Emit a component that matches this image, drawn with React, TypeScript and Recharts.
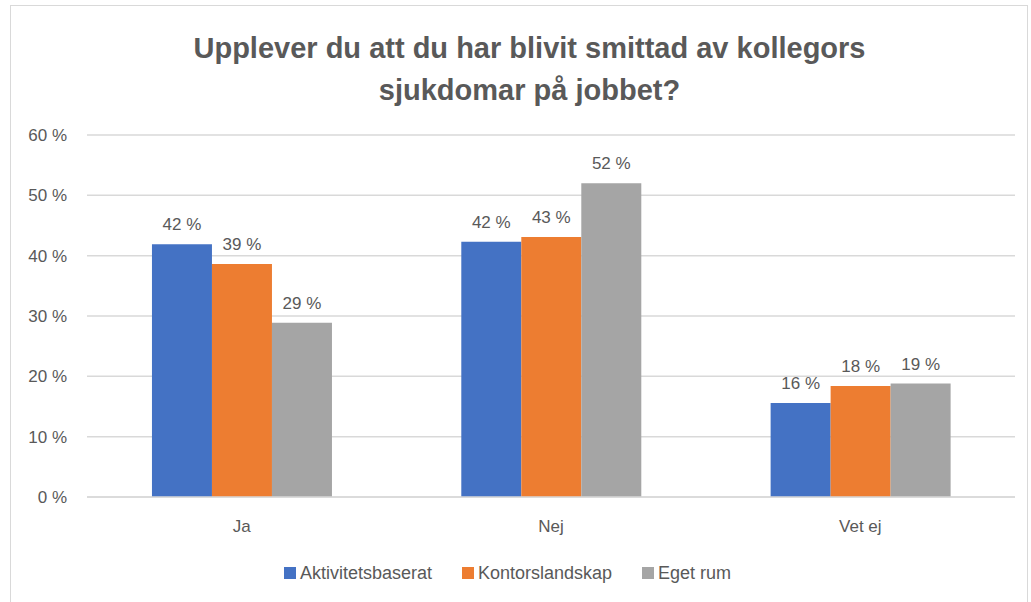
import { BarChart, Bar, XAxis, YAxis, CartesianGrid, Legend, LabelList } from "recharts";

const categories = ["Ja", "Nej", "Vet ej"];
const aktivitetsbaserat = [41.9, 42.3, 15.6];
const kontorslandskap = [38.6, 43.1, 18.4];
const egetRum = [28.9, 52.0, 18.8];
const yTicks = [0, 10, 20, 30, 40, 50, 60];

const data = categories.map((c, i) => ({
  name: c,
  Aktivitetsbaserat: aktivitetsbaserat[i],
  Kontorslandskap: kontorslandskap[i],
  "Eget rum": egetRum[i],
}));

const font = "'Liberation Sans', Arial, sans-serif";
const textColor = "#595959";
const pct = (v: any) => `${Math.round(Number(v))} %`;

const series = [
  { key: "Aktivitetsbaserat", color: "#4472C4" },
  { key: "Kontorslandskap", color: "#ED7D31" },
  { key: "Eget rum", color: "#A5A5A5" },
];

function LegendContent() {
  return (
    <div style={{ display: "flex", justifyContent: "center", gap: 30, height: 22, alignItems: "center" }}>
      {series.map((s) => (
        <div key={s.key} style={{ display: "flex", alignItems: "center", gap: 4 }}>
          <span style={{ width: 12, height: 12, background: s.color, display: "inline-block" }} />
          <span style={{ color: textColor, fontSize: 18, fontFamily: font }}>{s.key}</span>
        </div>
      ))}
    </div>
  );
}

export default function App() {
  return (
    <div style={{ position: "fixed", left: 0, top: 0, width: 1031, height: 602, background: "#fff", fontFamily: font }}>
      <div style={{ position: "absolute", left: 10, top: 5, width: 1016, height: 610, border: "1px solid #D9D9D9" }} />
      <div
        style={{
          position: "absolute",
          left: 14,
          top: 27,
          width: 1031,
          textAlign: "center",
          color: textColor,
          fontSize: 29,
          fontWeight: 700,
          lineHeight: "42px",
        }}
      >
        Upplever du att du har blivit smittad av kollegors
        <br />
        sjukdomar på jobbet?
      </div>
      <BarChart
        width={1031}
        height={602}
        data={data}
        margin={{ top: 135, right: 16, left: 0, bottom: 53 }}
        barCategoryGap="21%"
        barGap={0}
        style={{ position: "absolute", left: 0, top: 0 }}
      >
        <CartesianGrid vertical={false} stroke="#D9D9D9" strokeWidth={1.5} />
        <XAxis
          dataKey="name"
          axisLine={{ stroke: "#D9D9D9", strokeWidth: 1.5 }}
          tickLine={false}
          height={30}
          tick={{ fill: textColor, fontSize: 17, fontFamily: font }}
          tickMargin={17}
        />
        <YAxis
          domain={[0, 60]}
          ticks={yTicks}
          width={87}
          axisLine={false}
          tickLine={false}
          tickFormatter={(v) => `${v} %`}
          tick={{ fill: textColor, fontSize: 17, fontFamily: font, dx: -12 }}
        />
        <Legend verticalAlign="bottom" content={<LegendContent />} wrapperStyle={{ bottom: 18 }} />
        {series.map((s) => (
          <Bar key={s.key} dataKey={s.key} fill={s.color} isAnimationActive={false}>
            <LabelList
              dataKey={s.key}
              position="top"
              offset={14}
              formatter={pct}
              style={{ fill: textColor, fontSize: 17, fontFamily: font }}
            />
          </Bar>
        ))}
      </BarChart>
    </div>
  );
}
